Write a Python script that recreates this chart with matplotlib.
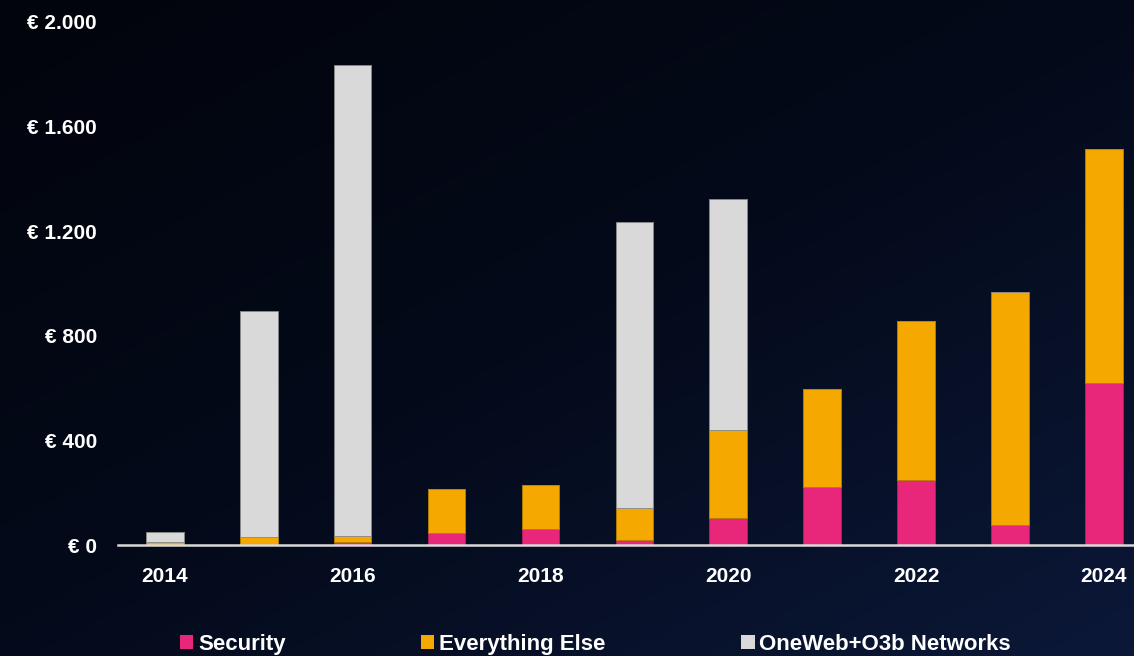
import numpy as np
import matplotlib.pyplot as plt
from matplotlib.patches import Patch
from matplotlib.colors import LinearSegmentedColormap

plt.rcParams['font.family'] = ['Liberation Sans', 'DejaVu Sans']

# data
years = [2014, 2015, 2016, 2017, 2018, 2019, 2020, 2021, 2022, 2023, 2024]
security = [0, 0, 13, 47, 63, 20, 103, 222, 249, 76, 621]
everything_else = [13, 33, 23, 169, 165, 122, 337, 375, 608, 891, 892]
oneweb_o3b = [36, 862, 1800, 0, 0, 1093, 883, 0, 0, 0, 0]

series_labels = ['Security', 'Everything Else', 'OneWeb+O3b Networks']
colors = ['#E8267A', '#F5A800', '#D9D9D9']
ytick_vals = [0, 400, 800, 1200, 1600, 2000]
ytick_labels = ['€ 0', '€ 400', '€ 800', '€ 1.200', '€ 1.600', '€ 2.000']

fig = plt.figure(figsize=(11.34, 6.56), dpi=100)

# background gradient
bg = fig.add_axes([0, 0, 1, 1], zorder=-10)
gx, gy = np.meshgrid(np.linspace(0, 1, 200), np.linspace(0, 1, 200))
grad = 0.55 * gx + 0.6 * gy
cmap = LinearSegmentedColormap.from_list('bg', ['#02040c', '#040a1a', '#0b1838'])
bg.imshow(grad, cmap=cmap, aspect='auto', extent=[0, 1, 0, 1], origin='upper')
bg.axis('off')

ax = fig.add_axes([0.104, 0.169, 0.9, 0.7975])
ax.patch.set_alpha(0)

x = np.array(years)
w = 0.4
sec = np.array(security)
ee = np.array(everything_else)
ow = np.array(oneweb_o3b)
ax.bar(x, sec, w, color=colors[0], edgecolor='#b81e60', linewidth=0.6, zorder=3)
ax.bar(x, ee, w, bottom=sec, color=colors[1], edgecolor='#b88000', linewidth=0.6, zorder=3)
ax.bar(x, ow, w, bottom=sec + ee, color=colors[2], edgecolor='#8a8a8a', linewidth=0.6, zorder=3)

ax.set_xlim(2013.5, 2024.37)
ax.set_ylim(0, 2000)
ax.set_yticks(ytick_vals)
ax.set_yticklabels(ytick_labels)
ax.set_xticks(years[::2])
ax.set_xticklabels([str(y) for y in years[::2]])
ax.tick_params(axis='both', length=0, colors='white', labelsize=15)
ax.tick_params(axis='y', pad=15)
ax.tick_params(axis='x', pad=16)
for lbl in ax.get_xticklabels() + ax.get_yticklabels():
    lbl.set_fontweight('bold')
    lbl.set_color('white')

for s in ['top', 'right', 'left']:
    ax.spines[s].set_visible(False)
ax.spines['bottom'].set_color('#d9d9d9')
ax.spines['bottom'].set_linewidth(1.8)
ax.spines['bottom'].set_zorder(4)

handles = [Patch(facecolor=c, edgecolor='none') for c in colors]
leg = fig.legend(handles, series_labels, loc='center', bbox_to_anchor=(0.525, 0.018),
                 ncol=3, frameon=False, fontsize=16, handlelength=0.6, handleheight=0.6,
                 handletextpad=0.22, columnspacing=6.1)
for t in leg.get_texts():
    t.set_color('white')
    t.set_fontweight('bold')

fig.savefig('out.png', dpi=100)
